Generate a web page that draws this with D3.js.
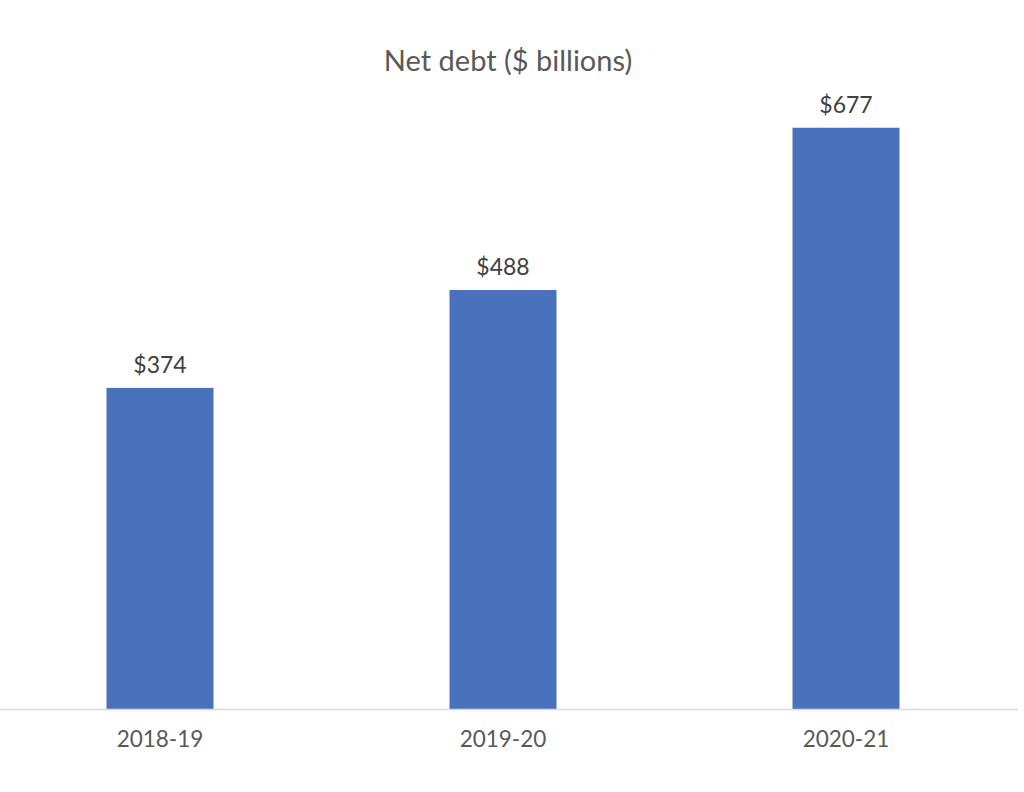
<!DOCTYPE html>
<html><head><meta charset="utf-8">
<script src="https://cdn.jsdelivr.net/npm/d3@7"></script>
<style>body{margin:0;background:#fff;}svg{display:block;}</style>
</head><body>
<script>
const categories = ["2018-19", "2019-20", "2020-21"];
const values = [374, 488, 677];
const valueLabels = ["$374", "$488", "$677"];
const title = "Net debt ($ billions)";

const W = 1024, H = 792;
const svg = d3.select("body").append("svg").attr("width", W).attr("height", H);
const font = "Lato, 'Open Sans', sans-serif";

const x = d3.scaleBand().domain(categories).range([-11.5, 1017.5]).paddingInner(0.688).paddingOuter(0.344);
const y = d3.scaleLinear().domain([0, 700]).range([709, 108]);

svg.append("text").attr("x", 508).attr("y", 71).attr("text-anchor", "middle")
  .attr("font-family", font).attr("font-size", 29).attr("fill", "#595959").text(title);

svg.selectAll("rect.bar").data(values).join("rect").attr("class", "bar")
  .attr("x", (d, i) => x(categories[i])).attr("width", x.bandwidth())
  .attr("y", d => y(d)).attr("height", d => y(0) - y(d)).attr("fill", "#4A72BC");

svg.selectAll("text.val").data(values).join("text").attr("class", "val")
  .attr("x", (d, i) => x(categories[i]) + x.bandwidth() / 2).attr("y", d => y(d) - 15)
  .attr("text-anchor", "middle").attr("font-family", font).attr("font-size", 23).attr("fill", "#404040")
  .text((d, i) => valueLabels[i]);

const axis = svg.append("g").attr("transform", `translate(0,${y(0)})`)
  .call(d3.axisBottom(x).tickSize(0).tickPadding(22));
axis.select(".domain").attr("d", "M0,0.5H1018").attr("stroke", "#d9d9d9").attr("stroke-width", 1.5);
axis.selectAll("text").attr("font-family", font).attr("font-size", 22.5).attr("fill", "#595959").attr("dy", "0.71em");
</script>
</body></html>
